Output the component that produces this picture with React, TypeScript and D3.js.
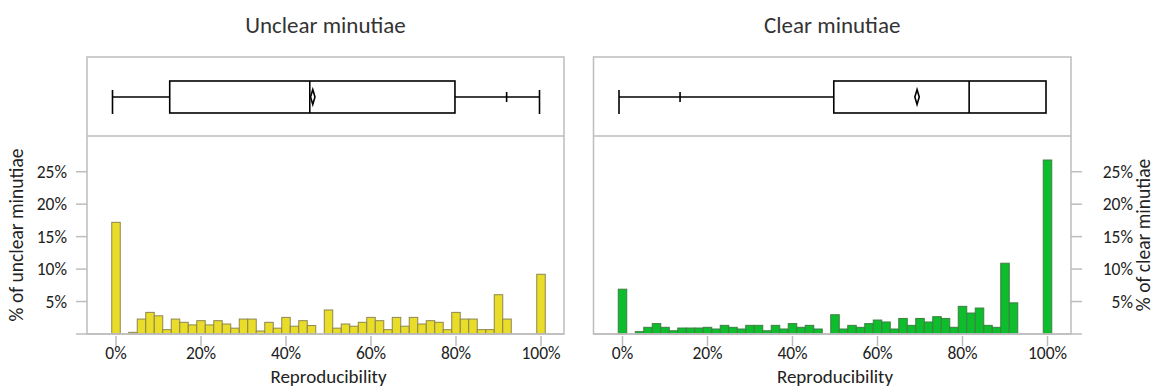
import React, { useRef, useEffect } from 'react';
import * as d3 from 'd3';

// bin centres (reproducibility, %)
const binCenters = [
  0, 2, 4, 6, 8, 10, 12, 14, 16, 18, 20, 22, 24, 26, 28, 30, 32, 34, 36, 38, 40, 42, 44, 46, 48, 50,
  52, 54, 56, 58, 60, 62, 64, 66, 68, 70, 72, 74, 76, 78, 80, 82, 84, 86, 88, 90, 92, 94, 96, 98, 100,
];

// % of minutiae in each bin
const unclearPct = [
  17.2, 0, 0.26, 2.3, 3.33, 2.8, 0.67, 2.3, 1.8, 1.4,
  2.05, 1.4, 2.05, 1.54, 0.9, 2.3, 2.3, 0.46, 1.8, 0.9,
  2.56, 1.2, 2.05, 1.3, 0, 3.7, 0.9, 1.54, 1.2, 1.8,
  2.56, 2.05, 0.67, 2.56, 1.2, 2.56, 1.54, 2.05, 1.8, 0.67,
  3.33, 2.3, 2.3, 0.67, 0.67, 6.05, 2.3, 0, 0, 0,
  9.2,
];
const clearPct = [
  6.9, 0, 0.36, 1.03, 1.6, 1.03, 0.5, 0.92, 0.92, 0.92,
  1.03, 0.77, 1.33, 1.03, 0.77, 1.33, 1.33, 0.5, 1.33, 0.77,
  1.6, 1.03, 1.33, 0.77, 0, 2.97, 0.77, 1.33, 1.03, 1.6,
  2.15, 1.85, 0.77, 2.4, 1.33, 2.4, 1.85, 2.67, 2.4, 1.03,
  4.26, 3.23, 4.0, 1.33, 1.03, 10.9, 4.8, 0, 0, 0,
  26.8,
];

// box plot summaries: min, p10, q1, median, mean, q3, p90, max (fraction)
const unclearBox = { min: 0, p10: 0, q1: 0.134, median: 0.462, mean: 0.469, q3: 0.802, p90: 0.923, max: 1 };
const clearBox = { min: 0, p10: 0.143, q1: 0.503, median: 0.82, mean: 0.698, q3: 1, p90: 1, max: 1 };

const xTicks = [0, 20, 40, 60, 80, 100];
const yTicks = [5, 10, 15, 20, 25];

const titles = ['Unclear minutiae', 'Clear minutiae'];
const yTitles = ['% of unclear minutiae', '% of clear minutiae'];

const FONT = 'Carlito, Calibri, Lato, sans-serif';

const App = () => {
  const ref = useRef(null);

  useEffect(() => {
    const W = 1154;
    const H = 387;
    d3.select(ref.current).selectAll('*').remove();

    const svg = d3
      .select(ref.current)
      .append('svg')
      .attr('width', W)
      .attr('height', H)
      .style('position', 'absolute')
      .style('left', 0)
      .style('top', 0)
      .style('font-family', FONT);

    const frameTop = 57;
    const sep = 136;
    const base = 334;
    const grey = '#bdbdbd';

    const panels = [
      { left: 87, right: 564, data: unclearPct, box: unclearBox, fill: '#e9dd2a', stroke: '#8c8650', axisSide: 'left' },
      { left: 593.5, right: 1071, data: clearPct, box: clearBox, fill: '#0dbd2c', stroke: '#3f7f45', axisSide: 'right' },
    ];

    const y = d3.scaleLinear().domain([0, 30.5]).range([base, sep]);

    panels.forEach((p, i) => {
      const g = svg.append('g');
      const x = d3.scaleLinear().domain([0, 100]).range([p.left + 29, p.left + 454]);
      const bx = d3.scaleLinear().domain([0, 1]).range([p.left + 25.5, p.left + 452.5]);

      // title
      g.append('text')
        .attr('x', (p.left + p.right) / 2)
        .attr('y', 33)
        .attr('text-anchor', 'middle')
        .attr('font-size', 23)
        .attr('fill', '#333')
        .text(titles[i]);

      // bars
      g.selectAll('.bar')
        .data(binCenters.map((c, j) => ({ c, v: p.data[j] })).filter((d) => d.v > 0))
        .enter()
        .append('rect')
        .attr('x', (d) => x(d.c - 1))
        .attr('y', (d) => y(d.v))
        .attr('width', (d) => x(d.c + 1) - x(d.c - 1))
        .attr('height', (d) => base - y(d.v))
        .attr('fill', p.fill)
        .attr('stroke', p.stroke)
        .attr('stroke-width', 1);

      // frame
      g.append('rect')
        .attr('x', p.left)
        .attr('y', frameTop)
        .attr('width', p.right - p.left)
        .attr('height', base - frameTop)
        .attr('fill', 'none')
        .attr('stroke', grey)
        .attr('stroke-width', 1.5);
      g.append('line')
        .attr('x1', p.left)
        .attr('x2', p.right)
        .attr('y1', sep)
        .attr('y2', sep)
        .attr('stroke', grey)
        .attr('stroke-width', 1.5);

      // x axis
      const ax = g.append('g').attr('transform', `translate(0,${base})`);
      ax.append('line')
        .attr('x1', p.axisSide === 'left' ? p.left - 11 : p.left)
        .attr('x2', p.axisSide === 'right' ? p.right + 11 : p.right)
        .attr('stroke', grey)
        .attr('stroke-width', 1.5);
      xTicks.forEach((t) => {
        ax.append('line')
          .attr('x1', x(t))
          .attr('x2', x(t))
          .attr('y1', 2)
          .attr('y2', 12)
          .attr('stroke', grey)
          .attr('stroke-width', 1.5);
        ax.append('text')
          .attr('x', x(t))
          .attr('y', 25)
          .attr('text-anchor', 'middle')
          .attr('font-size', 17.5)
          .attr('fill', '#222')
          .text(`${t}%`);
      });
      g.append('text')
        .attr('x', x(50))
        .attr('y', 383)
        .attr('text-anchor', 'middle')
        .attr('font-size', 19)
        .attr('fill', '#222')
        .text('Reproducibility');

      // y axis
      const edge = p.axisSide === 'left' ? p.left : p.right;
      const dir = p.axisSide === 'left' ? -1 : 1;
      yTicks.forEach((t) => {
        g.append('line')
          .attr('x1', edge)
          .attr('x2', edge + dir * 11)
          .attr('y1', y(t))
          .attr('y2', y(t))
          .attr('stroke', grey)
          .attr('stroke-width', 1.5);
        g.append('text')
          .attr('x', p.axisSide === 'left' ? 67 : 1133)
          .attr('y', y(t))
          .attr('dy', '0.35em')
          .attr('text-anchor', 'end')
          .attr('font-size', 17.5)
          .attr('fill', '#222')
          .text(`${t}%`);
      });
      const tx = p.axisSide === 'left' ? 16 : 1143.5;
      g.append('text')
        .attr('transform', `translate(${tx},235) rotate(-90)`)
        .attr('dy', '0.35em')
        .attr('text-anchor', 'middle')
        .attr('font-size', 19.5)
        .attr('fill', '#222')
        .text(yTitles[i]);

      // box plot
      const b = p.box;
      const cy = 97;
      const top = 81;
      const bot = 113;
      const bg = g.append('g').attr('stroke', '#000').attr('stroke-width', 1.6).attr('fill', 'none');
      if (b.q1 > b.min) {
        bg.append('line').attr('x1', bx(b.min)).attr('x2', bx(b.q1)).attr('y1', cy).attr('y2', cy);
        bg.append('line').attr('x1', bx(b.min)).attr('x2', bx(b.min)).attr('y1', 90).attr('y2', bot + 1);
      }
      if (b.max > b.q3) {
        bg.append('line').attr('x1', bx(b.q3)).attr('x2', bx(b.max)).attr('y1', cy).attr('y2', cy);
        bg.append('line').attr('x1', bx(b.max)).attr('x2', bx(b.max)).attr('y1', 90).attr('y2', bot + 1);
      }
      [b.p10, b.p90].forEach((v) => {
        if ((v > b.min && v < b.q1) || (v > b.q3 && v < b.max)) {
          bg.append('line').attr('x1', bx(v)).attr('x2', bx(v)).attr('y1', cy - 5).attr('y2', cy + 5);
        }
      });
      bg.append('rect').attr('x', bx(b.q1)).attr('y', top).attr('width', bx(b.q3) - bx(b.q1)).attr('height', bot - top);
      bg.append('line').attr('x1', bx(b.median)).attr('x2', bx(b.median)).attr('y1', top).attr('y2', bot);
      const mx = bx(b.mean);
      bg.append('path').attr('d', `M${mx},${cy - 7.5}L${mx + 2.2},${cy}L${mx},${cy + 7.5}L${mx - 2.2},${cy}Z`);
    });
  }, []);

  return <div ref={ref}></div>;
};

export default App;
